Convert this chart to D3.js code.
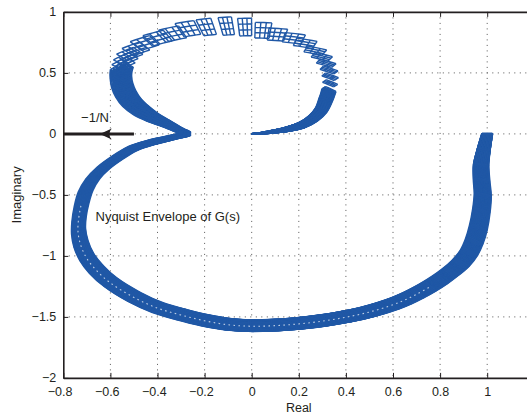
<!DOCTYPE html>
<html>
<head>
<meta charset="utf-8">
<script src="https://cdn.jsdelivr.net/npm/d3@7"></script>
<style>
  html, body { margin: 0; padding: 0; background: #fff; }
  svg { display: block; font-family: "Liberation Sans", Arial, sans-serif; }
</style>
</head>
<body>
<svg id="chart" width="527" height="417"></svg>
<script>
// Nominal frequency response G(jw) at the template frequencies, w increasing
const nomRe = [
  1.000, 0.985, 0.974, 0.976, 0.981, 0.975, 0.962, 0.945, 0.923, 0.887,
  0.845, 0.800, 0.750, 0.700, 0.650, 0.600, 0.500, 0.400, 0.300, 0.200,
  0.100, 0.000, -0.100, -0.200, -0.300, -0.400, -0.500, -0.600, -0.660, -0.700,
  -0.725, -0.735, -0.733, -0.722, -0.705, -0.675, -0.630, -0.570, -0.505, -0.430,
  -0.360, -0.305, -0.269, -0.300, -0.366, -0.425, -0.472, -0.510, -0.535, -0.550,
  -0.555, -0.555, -0.551, -0.544, -0.534, -0.517, -0.491,
  -0.453, -0.398, -0.334, -0.269, -0.191, -0.106, -0.028, 0.047, 0.107, 0.177,
  0.226, 0.269, 0.297, 0.316, 0.328, 0.333, 0.333, 0.328,
  0.322, 0.314, 0.295, 0.262, 0.214, 0.150, 0.078, 0.035, 0.000
];
const nomIm = [
  0.000, -0.130, -0.255, -0.380, -0.500, -0.630, -0.770, -0.880, -0.972, -1.060,
  -1.131, -1.195, -1.256, -1.309, -1.356, -1.395, -1.455, -1.498, -1.530, -1.553,
  -1.567, -1.572, -1.560, -1.527, -1.480, -1.423, -1.335, -1.215, -1.110, -1.010,
  -0.900, -0.800, -0.700, -0.580, -0.470, -0.370, -0.280, -0.195, -0.120, -0.072,
  -0.040, -0.015, 0.000, 0.025, 0.087, 0.140, 0.196, 0.260, 0.330, 0.400,
  0.460, 0.499, 0.540, 0.577, 0.614, 0.655, 0.696,
  0.745, 0.786, 0.821, 0.862, 0.876, 0.884, 0.876, 0.849, 0.815, 0.784,
  0.743, 0.682, 0.633, 0.579, 0.524, 0.469, 0.415, 0.360,
  0.320, 0.278, 0.196, 0.128, 0.073, 0.038, 0.015, 0.004, 0.000
];
// Template extents: +/- fractional gain and +/- phase (degrees)
const gainSpread = [
  0.022, 0.027, 0.031, 0.032, 0.032, 0.032, 0.032, 0.031, 0.030, 0.030,
  0.029, 0.029, 0.029, 0.029, 0.029, 0.029, 0.029, 0.029, 0.029, 0.029,
  0.029, 0.029, 0.029, 0.029, 0.029, 0.029, 0.030, 0.031, 0.032, 0.033,
  0.034, 0.034, 0.034, 0.034, 0.034, 0.033, 0.032, 0.032, 0.032, 0.032,
  0.032, 0.032, 0.032, 0.032, 0.033, 0.034, 0.035, 0.036, 0.036, 0.036,
  0.036, 0.036, 0.036, 0.036, 0.038, 0.042, 0.046,
  0.050, 0.054, 0.058, 0.064, 0.075, 0.082, 0.082, 0.075, 0.060, 0.048,
  0.040, 0.034, 0.030, 0.027, 0.025, 0.025, 0.025, 0.025,
  0.025, 0.025, 0.025, 0.025, 0.025, 0.025, 0.025, 0.025, 0.025
];
const phaseSpread = [
  0.3, 0.4, 0.5, 0.5, 0.5, 0.5, 0.5, 0.5, 0.5, 0.5,
  0.5, 0.5, 0.5, 0.5, 0.5, 0.5, 0.5, 0.5, 0.5, 0.5,
  0.5, 0.5, 0.5, 0.5, 0.5, 0.5, 0.5, 0.4, 0.4, 0.3,
  0.3, 0.3, 0.4, 0.6, 0.8, 1.0, 1.3, 1.6, 2.0, 2.3,
  2.6, 2.8, 3.0, 3.4, 4.0, 4.5, 4.8, 4.5, 4.0, 3.5,
  3.1, 3.0, 3.0, 3.0, 3.0, 3.0, 3.0,
  3.0, 3.0, 2.8, 2.5, 1.9, 1.7, 1.8, 2.2, 2.6, 3.0,
  3.2, 3.3, 3.3, 3.3, 3.3, 3.3, 3.3, 3.4,
  3.6, 4.0, 4.6, 5.2, 5.8, 6.0, 6.0, 6.0, 6.0
];
// Index ranges where the templates are dense enough to sweep as a band
const sweeps = [[0, 52], [74, 83]];
// Stretch of the band where the template cells leave small holes
const holes = [12, 33];

// Describing-function locus -1/N on the negative real axis
const locusFrom = -0.5;
const locusTo = -0.8;
const locusArrowAt = -0.645;

const xTicks = [-0.8, -0.6, -0.4, -0.2, 0, 0.2, 0.4, 0.6, 0.8, 1.0];
const xTickLabels = ["\u22120.8", "\u22120.6", "\u22120.4", "\u22120.2", "0", "0.2", "0.4", "0.6", "0.8", "1"];
const yTicks = [-2, -1.5, -1, -0.5, 0, 0.5, 1];
const yTickLabels = ["\u22122", "\u22121.5", "\u22121", "\u22120.5", "0", "0.5", "1"];

const blue = "#2058a6";
const ink = "#231f20";

const svg = d3.select("#chart");
const x = d3.scaleLinear().domain([-0.8, 1.2]).range([63.3, 534.3]);
const y = d3.scaleLinear().domain([-2, 1]).range([377.9, 11.9]);

// grid
const grid = svg.append("g").attr("stroke", "#555").attr("stroke-width", 1)
  .attr("stroke-dasharray", "1,4.5");
xTicks.filter(v => v > -0.8).forEach(v => {
  grid.append("line").attr("x1", x(v)).attr("x2", x(v)).attr("y1", y(1)).attr("y2", y(-2));
});
yTicks.filter(v => v > -2 && v < 1).forEach(v => {
  grid.append("line").attr("x1", x(-0.8)).attr("x2", x(1.2)).attr("y1", y(v)).attr("y2", y(v));
});

// perturbed response: gain level a and phase level b in [-1, 1]
function warp(i, a, b) {
  const s = 1 + a * gainSpread[i];
  const t = b * phaseSpread[i] * Math.PI / 180;
  const re = nomRe[i], im = nomIm[i];
  return [s * (re * Math.cos(t) - im * Math.sin(t)), s * (re * Math.sin(t) + im * Math.cos(t))];
}

const env = svg.append("g").attr("fill", "none").attr("stroke", blue);
const smooth = d3.line().x(d => x(d[0])).y(d => y(d[1])).curve(d3.curveCatmullRom.alpha(0.5));
const straight = d3.line().x(d => x(d[0])).y(d => y(d[1]));

// swept band of the dense templates
const gainLevels = d3.range(9).map(k => -1 + k / 4);
const phaseLevels = d3.range(5).map(k => -1 + k / 2);
sweeps.forEach(([s0, s1]) => {
  gainLevels.forEach(a => phaseLevels.forEach(b => {
    const pts = d3.range(s0, s1 + 1).map(i => warp(i, a, b));
    env.append("path").attr("d", smooth(pts)).attr("stroke-width", 1.7);
  }));
});

// individual templates as parameter meshes
const meshGain = [-1, -1 / 3, 1 / 3, 1];
const meshPhase = [-1, -1 / 3, 1 / 3, 1];
nomRe.forEach((_, i) => {
  const g = env.append("g").attr("stroke-width", 1.4);
  meshGain.forEach(a => {
    g.append("path").attr("d", straight([-1, -0.5, 0, 0.5, 1].map(b => warp(i, a, b))));
  });
  meshPhase.forEach(b => {
    g.append("path").attr("d", straight([-1, 1].map(a => warp(i, a, b))));
  });
});

// small gaps between overlapping template cells
env.append("path")
  .attr("d", smooth(d3.range(holes[0], holes[1] + 1).map(i => warp(i, 0.1, 0))))
  .attr("stroke", "#fff").attr("stroke-width", 1.1).attr("stroke-dasharray", "1.6,3.4")
  .attr("opacity", 0.7);

// -1/N locus with arrow
svg.append("line")
  .attr("x1", x(locusFrom)).attr("x2", x(locusTo)).attr("y1", y(0)).attr("y2", y(0))
  .attr("stroke", ink).attr("stroke-width", 3);
const tx = x(locusArrowAt), ty = y(0);
svg.append("path")
  .attr("d", `M${tx},${ty} L${tx + 12},${ty - 5.5} Q${tx + 7},${ty} ${tx + 12},${ty + 5.5} Z`)
  .attr("fill", ink);

// axes
function styleAxis(g) {
  g.select(".domain").attr("stroke", ink).attr("stroke-width", 1.6);
  g.selectAll(".tick line").attr("stroke", ink).attr("stroke-width", 1);
  g.selectAll("text").attr("fill", ink).attr("font-size", 12.5)
    .attr("font-family", "\"Liberation Sans\", Arial, sans-serif");
}
const gx = svg.append("g").attr("transform", `translate(0,${y(-2)})`)
  .call(d3.axisBottom(x).tickValues(xTicks).tickFormat((d, i) => xTickLabels[i])
    .tickSizeInner(-5).tickSizeOuter(0).tickPadding(9.7));
styleAxis(gx);
// keep the digits centred on the tick, the minus sign hangs to the left
const probe = svg.append("text").attr("font-size", 12.5).text("\u2212");
const minusW = probe.node().getComputedTextLength();
probe.remove();
gx.selectAll(".tick text").attr("dx", (d, i) => xTickLabels[i].startsWith("\u2212") ? -minusW / 2 : 0);

const gxt = svg.append("g").attr("transform", `translate(0,${y(1)})`)
  .call(d3.axisTop(x).tickValues(xTicks).tickFormat("").tickSizeInner(-5).tickSizeOuter(0));
styleAxis(gxt);

const gy = svg.append("g").attr("transform", `translate(${x(-0.8)},0)`)
  .call(d3.axisLeft(y).tickValues(yTicks).tickFormat((d, i) => yTickLabels[i])
    .tickSizeInner(-5).tickSizeOuter(0).tickPadding(7));
styleAxis(gy);

const gyr = svg.append("g").attr("transform", `translate(${x(1.2)},0)`)
  .call(d3.axisRight(y).tickValues(yTicks).tickFormat("").tickSizeInner(-5).tickSizeOuter(0));
styleAxis(gyr);

// labels
svg.append("text").attr("x", (x(-0.8) + x(1.2)) / 2).attr("y", 412)
  .attr("text-anchor", "middle").attr("font-size", 12.5).attr("fill", ink).text("Real");
svg.append("text").attr("transform", `translate(21,${(y(1) + y(-2)) / 2}) rotate(-90)`)
  .attr("text-anchor", "middle").attr("font-size", 13).attr("fill", ink).text("Imaginary");
svg.append("text").attr("x", 95).attr("y", 121.5)
  .attr("text-anchor", "middle").attr("font-size", 13).attr("fill", ink).text("\u22121/N");
svg.append("text").attr("x", 95.5).attr("y", 221)
  .attr("font-size", 13).attr("fill", ink).text("Nyquist Envelope of G(s)");
</script>
</body>
</html>
